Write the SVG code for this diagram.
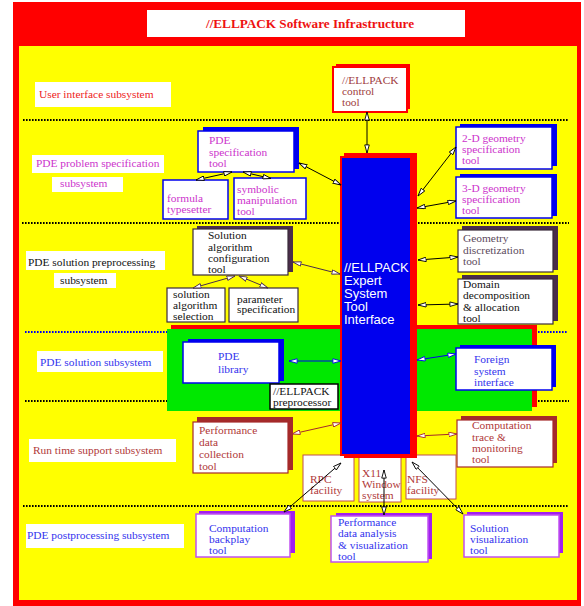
<svg xmlns="http://www.w3.org/2000/svg" width="584" height="606" viewBox="0 0 584 606">
<style>
.t{font-family:"Liberation Serif","Times New Roman",serif;font-size:11.4px}
.mag{fill:#cc33cc}.blu{fill:#3333ee}.brn{fill:#b03838}.blk{fill:#111}.gry{fill:#5c4a5c}.ctl{fill:#a04040}
.lab{fill:#fff}
.dot{stroke:#000;stroke-width:2;stroke-dasharray:1.6 1.4;fill:none}
.bb{fill:#fff;stroke:#0000ee;stroke-width:1.5}
.pb{fill:#fff;stroke:#3a2a3a;stroke-width:1.2}
.rb{fill:#fff;stroke:#a52a2a;stroke-width:1.2}
.vb{fill:#fff;stroke:#c050f0;stroke-width:1.5}
.sb{fill:#0000ee}.sp{fill:#4a2d4a}.sr{fill:#a52a2a}.sv{fill:#a020f0}
.c{fill:none;stroke-width:1}
</style>
<defs>
<marker id="ak" viewBox="0 0 10 6" refX="9.5" refY="3" markerWidth="9" markerHeight="5.4" markerUnits="userSpaceOnUse" orient="auto-start-reverse"><path d="M0.5,0.5 L9.5,3 L0.5,5.5 Z" fill="#fff" stroke="#000" stroke-width="1"/></marker>
<marker id="ab" viewBox="0 0 10 6" refX="9.5" refY="3" markerWidth="9" markerHeight="5.4" markerUnits="userSpaceOnUse" orient="auto-start-reverse"><path d="M0.5,0.5 L9.5,3 L0.5,5.5 Z" fill="#fff" stroke="#0000ee" stroke-width="1"/></marker>
<marker id="ar" viewBox="0 0 10 6" refX="9.5" refY="3" markerWidth="9" markerHeight="5.4" markerUnits="userSpaceOnUse" orient="auto-start-reverse"><path d="M0.5,0.5 L9.5,3 L0.5,5.5 Z" fill="#fff" stroke="#a52a2a" stroke-width="1"/></marker>
<marker id="ap" viewBox="0 0 10 6" refX="9.5" refY="3" markerWidth="9" markerHeight="5.4" markerUnits="userSpaceOnUse" orient="auto-start-reverse"><path d="M0.5,0.5 L9.5,3 L0.5,5.5 Z" fill="#fff" stroke="#4a2d4a" stroke-width="1"/></marker>
</defs>
<rect width="584" height="606" fill="#fff"/>
<rect x="13" y="2" width="568" height="604" fill="#ff0000"/>
<rect x="19" y="46" width="558" height="554" fill="#ffff00"/>
<g id="title">
<rect x="147" y="10" width="318" height="27" fill="#fff"/>
<text x="310" y="28" text-anchor="middle" font-family="Liberation Serif,serif" font-weight="bold" font-size="13.2" fill="#ee1111">//ELLPACK Software Infrastructure</text>
</g>
<g id="separators">
<line class="dot" x1="23" y1="120" x2="568" y2="120"/>
<line class="dot" x1="22" y1="223" x2="569" y2="223"/>
<line class="dot" x1="25" y1="332" x2="167" y2="332" style="stroke:#0000ee"/>
<line class="dot" x1="538" y1="332" x2="567" y2="332" style="stroke:#0000ee"/>
<line class="dot" x1="25" y1="401" x2="167" y2="401"/>
<line class="dot" x1="538" y1="401" x2="569" y2="401"/>
<line class="dot" x1="23" y1="506" x2="569" y2="506"/>
</g>
<g id="labels" class="t">
<rect class="lab" x="35" y="82" width="136" height="25"/>
<text x="39" y="98" fill="#ee2222">User interface subsystem</text>
<rect class="lab" x="32" y="155" width="132" height="18"/>
<text class="mag" x="36" y="167">PDE problem specification</text>
<rect class="lab" x="52" y="177" width="71" height="15"/>
<text class="mag" x="60" y="187">subsystem</text>
<rect class="lab" x="26" y="251" width="139" height="19"/>
<text class="blk" x="28" y="266">PDE solution preprocessing</text>
<rect class="lab" x="54" y="273" width="62" height="15"/>
<text class="blk" x="60" y="284">subsystem</text>
<rect class="lab" x="37" y="351" width="126" height="21"/>
<text class="blu" x="40" y="366">PDE solution subsystem</text>
<rect class="lab" x="29" y="439" width="147" height="23"/>
<text class="brn" x="33" y="454">Run time support subsystem</text>
<rect class="lab" x="26" y="524" width="158" height="24"/>
<text class="blu" x="27" y="539">PDE postprocessing subsystem</text>
</g>
<g id="green-region">
<rect x="171" y="325" width="366" height="82" fill="#ff0000"/>
<rect x="167" y="329" width="365" height="82" fill="#00e800"/>
</g>
<g id="control-tool" class="t">
<rect x="336" y="64" width="74" height="45" fill="#ff0000"/>
<rect x="333" y="67" width="74" height="45" fill="#fff" stroke="#ff0000" stroke-width="2"/>
<text class="ctl"><tspan x="342" y="84">//ELLPACK</tspan><tspan x="342" y="95">control</tspan><tspan x="342" y="106">tool</tspan></text>
</g>
<g id="pde-spec-tool" class="t">
<rect class="sb" x="203" y="127" width="96" height="42"/>
<rect class="bb" x="198" y="131" width="96" height="41"/>
<text class="mag"><tspan x="209" y="144">PDE</tspan><tspan x="209" y="155.5">specification</tspan><tspan x="209" y="167">tool</tspan></text>
</g>
<g id="formula-typesetter" class="t">
<rect class="bb" x="163" y="180" width="65" height="39"/>
<text class="mag"><tspan x="167" y="202">formula</tspan><tspan x="167" y="213">typesetter</tspan></text>
</g>
<g id="symbolic-tool" class="t">
<rect class="bb" x="234" y="178" width="72" height="41"/>
<text class="mag"><tspan x="237" y="193">symbolic</tspan><tspan x="237" y="204">manipulation</tspan><tspan x="237" y="215">tool</tspan></text>
</g>
<g id="geom2d" class="t">
<rect class="sb" x="460" y="124" width="97" height="42"/>
<rect class="bb" x="456" y="127" width="96" height="42"/>
<text class="mag"><tspan x="462" y="142">2-D geometry</tspan><tspan x="462" y="153">specification</tspan><tspan x="462" y="164">tool</tspan></text>
</g>
<g id="geom3d" class="t">
<rect class="sb" x="460" y="174" width="97" height="42"/>
<rect class="bb" x="456" y="177" width="96" height="41"/>
<text class="mag"><tspan x="462" y="192">3-D geometry</tspan><tspan x="462" y="203">specification</tspan><tspan x="462" y="214">tool</tspan></text>
</g>
<g id="sol-config" class="t">
<rect class="sp" x="197" y="226" width="96" height="46"/>
<rect class="pb" x="193" y="229" width="95" height="46"/>
<text class="blk"><tspan x="208" y="239">Solution</tspan><tspan x="208" y="250.5">algorithm</tspan><tspan x="208" y="262">configuration</tspan><tspan x="208" y="273">tool</tspan></text>
</g>
<g id="sol-selection" class="t">
<rect class="pb" x="167" y="288" width="58" height="34"/>
<text class="blk"><tspan x="173" y="297.5">solution</tspan><tspan x="173" y="308.5">algorithm</tspan><tspan x="173" y="319.5">selection</tspan></text>
</g>
<g id="param-spec" class="t">
<rect class="pb" x="229" y="288" width="69" height="34"/>
<text class="blk"><tspan x="237" y="302.5">parameter</tspan><tspan x="237" y="313">specification</tspan></text>
</g>
<g id="geom-discr" class="t">
<rect class="sp" x="462" y="226" width="96" height="44"/>
<rect class="pb" x="458" y="230" width="95" height="42"/>
<text class="gry"><tspan x="463" y="242">Geometry</tspan><tspan x="463" y="254">discretization</tspan><tspan x="463" y="265">tool</tspan></text>
</g>
<g id="domain-decomp" class="t">
<rect class="sp" x="462" y="275" width="96" height="46"/>
<rect class="pb" x="458" y="279" width="95" height="45"/>
<text class="blk"><tspan x="463" y="288">Domain</tspan><tspan x="463" y="299">decomposition</tspan><tspan x="463" y="310.5">&amp; allocation</tspan><tspan x="463" y="322">tool</tspan></text>
</g>
<g id="pde-library" class="t">
<rect class="sb" x="188" y="339" width="96" height="42"/>
<rect class="bb" x="183" y="342" width="96" height="41"/>
<text class="blu"><tspan x="218" y="360">PDE</tspan><tspan x="218" y="373">library</tspan></text>
</g>
<g id="preprocessor" class="t">
<rect x="270" y="384" width="68" height="25" fill="#fff" stroke="#000" stroke-width="1.5"/>
<text class="blk"><tspan x="273" y="395">//ELLPACK</tspan><tspan x="273" y="406">preprocessor</tspan></text>
</g>
<g id="foreign" class="t">
<rect class="sb" x="460" y="345" width="96" height="42"/>
<rect class="bb" x="456" y="348" width="96" height="42"/>
<text class="blu"><tspan x="474" y="363">Foreign</tspan><tspan x="474" y="374.5">system</tspan><tspan x="474" y="386">interface</tspan></text>
</g>
<g id="perf-collection" class="t">
<rect class="sr" x="197" y="417" width="96" height="53"/>
<rect class="rb" x="193" y="422" width="95" height="51"/>
<text class="brn"><tspan x="199" y="434">Performance</tspan><tspan x="199" y="446">data</tspan><tspan x="199" y="458">collection</tspan><tspan x="199" y="470">tool</tspan></text>
</g>
<g id="comp-trace" class="t">
<rect class="sr" x="461" y="416" width="96" height="47"/>
<rect class="rb" x="457" y="420" width="96" height="47"/>
<text class="brn"><tspan x="472" y="429">Computation</tspan><tspan x="472" y="441">trace &amp;</tspan><tspan x="472" y="452">monitoring</tspan><tspan x="472" y="463">tool</tspan></text>
</g>
<g id="rpc" class="t">
<rect x="303" y="455" width="51" height="46" fill="#fff" stroke="#c05050" stroke-width="1"/>
<text class="brn"><tspan x="310" y="483">RPC</tspan><tspan x="310" y="494">facility</tspan></text>
</g>
<g id="x11" class="t">
<rect x="359" y="455" width="42" height="47" fill="#fff" stroke="#c05050" stroke-width="1"/>
<text class="brn"><tspan x="362" y="477">X11</tspan><tspan x="362" y="488">Window</tspan><tspan x="362" y="499">system</tspan></text>
</g>
<g id="nfs" class="t">
<rect x="406" y="455" width="50" height="44" fill="#fff" stroke="#c05050" stroke-width="1"/>
<text class="brn"><tspan x="407" y="483">NFS</tspan><tspan x="407" y="494">facility</tspan></text>
</g>
<g id="expert-system">
<rect x="344" y="153" width="73" height="305" fill="#ff0000"/>
<rect x="341" y="157" width="70" height="298" fill="#0000ee" stroke="#ff0000" stroke-width="2"/>
<text font-family="Liberation Sans,Arial,sans-serif" font-size="13" fill="#fff"><tspan x="344" y="272">//ELLPACK</tspan><tspan x="344" y="285">Expert</tspan><tspan x="344" y="298">System</tspan><tspan x="344" y="311">Tool</tspan><tspan x="344" y="324">Interface</tspan></text>
</g>
<g id="backplay" class="t">
<rect class="sv" x="199" y="511" width="96" height="42"/>
<rect class="vb" x="196" y="514" width="94" height="43"/>
<text class="blu"><tspan x="209" y="532">Computation</tspan><tspan x="209" y="543">backplay</tspan><tspan x="209" y="554">tool</tspan></text>
</g>
<g id="perf-analysis" class="t">
<rect class="sv" x="336" y="513" width="96" height="46"/>
<rect class="vb" x="331" y="516" width="97" height="46"/>
<text class="blu"><tspan x="338" y="526">Performance</tspan><tspan x="338" y="537">data analysis</tspan><tspan x="338" y="548.5">&amp; visualization</tspan><tspan x="338" y="560">tool</tspan></text>
</g>
<g id="sol-vis" class="t">
<rect class="sv" x="467" y="512" width="96" height="41"/>
<rect class="vb" x="464" y="515" width="95" height="42"/>
<text class="blu"><tspan x="470" y="532">Solution</tspan><tspan x="470" y="543">visualization</tspan><tspan x="470" y="554">tool</tspan></text>
</g>
<g id="connectors">
<line class="c" stroke="#000" marker-start="url(#ak)" marker-end="url(#ak)" x1="367" y1="112" x2="367" y2="153"/>
<line class="c" stroke="#000" marker-start="url(#ak)" marker-end="url(#ak)" x1="299" y1="163" x2="341" y2="185"/>
<line class="c" stroke="#000" marker-start="url(#ak)" marker-end="url(#ak)" x1="232" y1="172" x2="196" y2="180"/>
<line class="c" stroke="#000" marker-start="url(#ak)" marker-end="url(#ak)" x1="243" y1="172" x2="271" y2="178.5"/>
<line class="c" stroke="#000" marker-start="url(#ak)" marker-end="url(#ak)" x1="418" y1="196" x2="456" y2="147"/>
<line class="c" stroke="#000" marker-start="url(#ak)" marker-end="url(#ak)" x1="417" y1="208" x2="456" y2="201"/>
<line class="c" stroke="#4a2d4a" marker-start="url(#ap)" marker-end="url(#ap)" x1="293" y1="262" x2="340" y2="274"/>
<line class="c" stroke="#4a2d4a" marker-start="url(#ap)" marker-end="url(#ap)" x1="235" y1="276" x2="193" y2="288"/>
<line class="c" stroke="#4a2d4a" marker-start="url(#ap)" marker-end="url(#ap)" x1="239" y1="276" x2="268" y2="288"/>
<line class="c" stroke="#000" marker-start="url(#ak)" marker-end="url(#ak)" x1="418" y1="260" x2="458" y2="257"/>
<line class="c" stroke="#000" marker-start="url(#ak)" marker-end="url(#ak)" x1="418" y1="305" x2="458" y2="304"/>
<line class="c" stroke="#0000ee" marker-start="url(#ab)" marker-end="url(#ab)" x1="289" y1="361" x2="341" y2="361"/>
<line class="c" stroke="#0000ee" marker-start="url(#ab)" marker-end="url(#ab)" x1="417" y1="360" x2="456" y2="354"/>
<line class="c" stroke="#a52a2a" marker-start="url(#ar)" marker-end="url(#ar)" x1="292" y1="434" x2="341" y2="423"/>
<line class="c" stroke="#a52a2a" marker-start="url(#ar)" marker-end="url(#ar)" x1="417" y1="436" x2="457" y2="434"/>
<line class="c" stroke="#000" marker-start="url(#ak)" marker-end="url(#ak)" x1="341" y1="463" x2="284" y2="512"/>
<line class="c" stroke="#000" marker-start="url(#ak)" marker-end="url(#ak)" x1="384" y1="470" x2="384" y2="515"/>
<line class="c" stroke="#000" marker-start="url(#ak)" marker-end="url(#ak)" x1="412" y1="462" x2="463" y2="514"/>
</g>
</svg>
